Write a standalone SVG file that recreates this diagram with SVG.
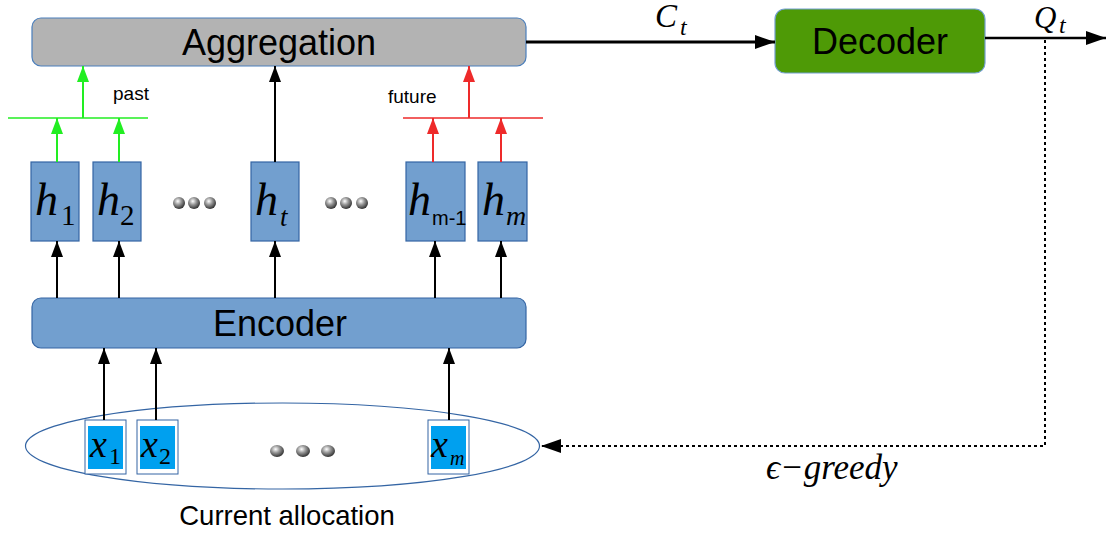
<svg xmlns="http://www.w3.org/2000/svg" width="1106" height="533" viewBox="0 0 1106 533">
<style>
.box{fill:#729fcf;stroke:#3465a4;stroke-width:1.2}
.lbl{font-family:"Liberation Sans",Arial,sans-serif;fill:#000}
.math{font-family:"Liberation Serif","DejaVu Serif",serif;font-style:italic;fill:#000}
.sub{font-family:"Liberation Serif","DejaVu Serif",serif;fill:#000}
.blk{stroke:#000;stroke-width:2;fill:none}
.grn{stroke:#22ee22;stroke-width:2;fill:none}
.red{stroke:#ee2a2a;stroke-width:2;fill:none}
.xo{fill:#fff;stroke:#3465a4;stroke-width:1}
.xi{fill:#00a0ef}
</style>
<defs>
<marker id="ab" markerUnits="userSpaceOnUse" markerWidth="16" markerHeight="12" refX="16" refY="6" orient="auto"><path d="M0,0 L16,6 L0,12 z" fill="#000"/></marker>
<marker id="ag" markerUnits="userSpaceOnUse" markerWidth="16" markerHeight="12" refX="16" refY="6" orient="auto"><path d="M0,0 L16,6 L0,12 z" fill="#22ee22"/></marker>
<marker id="ar" markerUnits="userSpaceOnUse" markerWidth="16" markerHeight="12" refX="16" refY="6" orient="auto"><path d="M0,0 L16,6 L0,12 z" fill="#ee2a2a"/></marker>
<marker id="abig" markerUnits="userSpaceOnUse" markerWidth="20" markerHeight="14" refX="20" refY="7" orient="auto"><path d="M0,0 L20,7 L0,14 z" fill="#000"/></marker>
<radialGradient id="sph" cx="0.4" cy="0.35" r="0.65"><stop offset="0" stop-color="#ffffff"/><stop offset="0.45" stop-color="#999"/><stop offset="1" stop-color="#333"/></radialGradient>
</defs>

<g id="aggregation">
<rect x="32" y="18" width="494" height="48" rx="9" fill="#b3b3b3" stroke="#4a7ebb" stroke-width="1.2"/>
<text class="lbl" x="279" y="55" font-size="36" text-anchor="middle">Aggregation</text>
</g>

<g id="decoder">
<rect x="775" y="9" width="210" height="64" rx="10" fill="#4e9a06" stroke="#729fcf" stroke-width="1.2"/>
<text class="lbl" x="880" y="54" font-size="36" text-anchor="middle">Decoder</text>
</g>

<g id="encoder">
<rect x="32" y="298" width="494" height="50" rx="9" class="box"/>
<text class="lbl" x="280" y="336" font-size="36" text-anchor="middle">Encoder</text>
</g>

<g id="h1"><rect class="box" x="31" y="162" width="48" height="79"/><text class="math" x="35" y="215" font-size="46">h</text><text class="sub" x="61" y="225" font-size="29">1</text></g>
<g id="h2"><rect class="box" x="93" y="162" width="48" height="79"/><text class="math" x="97" y="215" font-size="46">h</text><text class="sub" x="120" y="225" font-size="29">2</text></g>
<g id="ht"><rect class="box" x="251" y="162" width="48" height="79"/><text class="math" x="255" y="215" font-size="46">h</text><text class="math" x="280" y="226" font-size="27">t</text></g>
<g id="hm1"><rect class="box" x="406" y="162" width="59" height="79"/><text class="math" x="408" y="215" font-size="46">h</text><text class="lbl" x="432" y="225" font-size="20">m-1</text></g>
<g id="hm"><rect class="box" x="478" y="162" width="49" height="79"/><text class="math" x="482" y="215" font-size="46">h</text><text class="math" x="506" y="225" font-size="28">m</text></g>

<g id="dots-top">
<circle cx="179" cy="203" r="6" fill="url(#sph)"/><circle cx="194" cy="203" r="6" fill="url(#sph)"/><circle cx="210" cy="203" r="6" fill="url(#sph)"/>
<circle cx="331" cy="203" r="6" fill="url(#sph)"/><circle cx="346" cy="203" r="6" fill="url(#sph)"/><circle cx="362" cy="203" r="6" fill="url(#sph)"/>
</g>

<g id="allocation">
<ellipse cx="282.5" cy="446" rx="257" ry="43" fill="none" stroke="#3465a4" stroke-width="1.2"/>
<text class="lbl" x="287" y="525" font-size="27.5" text-anchor="middle">Current allocation</text>
<ellipse cx="277" cy="451" rx="7" ry="6" fill="url(#sph)"/><ellipse cx="303" cy="451" rx="7" ry="6" fill="url(#sph)"/><ellipse cx="328" cy="451" rx="7" ry="6" fill="url(#sph)"/>
</g>
<g id="x1"><rect class="xo" x="85" y="420" width="41" height="54"/><rect class="xi" x="88" y="426" width="35" height="43"/><text class="math" x="90" y="457" font-size="38">x</text><text class="sub" x="109" y="464" font-size="24">1</text></g>
<g id="x2"><rect class="xo" x="137" y="420" width="41" height="54"/><rect class="xi" x="140" y="426" width="35" height="43"/><text class="math" x="141" y="457" font-size="38">x</text><text class="sub" x="159" y="464" font-size="24">2</text></g>
<g id="xm"><rect class="xo" x="428" y="420" width="41" height="54"/><rect class="xi" x="431" y="426" width="35" height="43"/><text class="math" x="431" y="457" font-size="38">x</text><text class="math" x="450" y="465" font-size="20">m</text></g>

<g id="connectors">
<line class="blk" x1="57" y1="298" x2="57" y2="241" marker-end="url(#ab)"/>
<line class="blk" x1="119" y1="298" x2="119" y2="241" marker-end="url(#ab)"/>
<line class="blk" x1="275" y1="298" x2="275" y2="241" marker-end="url(#ab)"/>
<line class="blk" x1="435" y1="298" x2="435" y2="241" marker-end="url(#ab)"/>
<line class="blk" x1="501" y1="298" x2="501" y2="241" marker-end="url(#ab)"/>
<line class="blk" x1="104" y1="420" x2="104" y2="348" marker-end="url(#ab)"/>
<line class="blk" x1="156" y1="420" x2="156" y2="348" marker-end="url(#ab)"/>
<line class="blk" x1="449" y1="420" x2="449" y2="348" marker-end="url(#ab)"/>
<line class="blk" x1="275" y1="162" x2="275" y2="66" marker-end="url(#ab)"/>
<line stroke="#22ee22" stroke-width="1.5" x1="8" y1="118" x2="148" y2="118"/>
<line class="grn" x1="57" y1="162" x2="57" y2="118" marker-end="url(#ag)"/>
<line class="grn" x1="119" y1="162" x2="119" y2="118" marker-end="url(#ag)"/>
<line class="grn" x1="83" y1="118" x2="83" y2="66" marker-end="url(#ag)"/>
<text class="lbl" x="113" y="100" font-size="19">past</text>
<line stroke="#ee2a2a" stroke-width="1.5" x1="403" y1="118" x2="543" y2="118"/>
<line class="red" x1="433" y1="162" x2="433" y2="118" marker-end="url(#ar)"/>
<line class="red" x1="501" y1="162" x2="501" y2="118" marker-end="url(#ar)"/>
<line class="red" x1="469" y1="118" x2="469" y2="66" marker-end="url(#ar)"/>
<text class="lbl" x="388" y="103" font-size="19">future</text>
<line stroke="#000" stroke-width="3" x1="526" y1="42" x2="775" y2="42" marker-end="url(#abig)"/>
<text class="math" x="655" y="27" font-size="33">C</text><text class="math" x="680" y="35" font-size="24">t</text>
<line stroke="#000" stroke-width="2.5" x1="985" y1="38" x2="1106" y2="38" marker-end="url(#abig)"/>
<text class="math" x="1034" y="28" font-size="31">Q</text><text class="math" x="1059" y="33" font-size="24">t</text>
<polyline points="1045,40 1045,446 541,446" fill="none" stroke="#000" stroke-width="2" stroke-dasharray="3,3" marker-end="url(#abig)"/>
<text class="math" x="766" y="479" font-size="35">ϵ−greedy</text>
</g>
</svg>
